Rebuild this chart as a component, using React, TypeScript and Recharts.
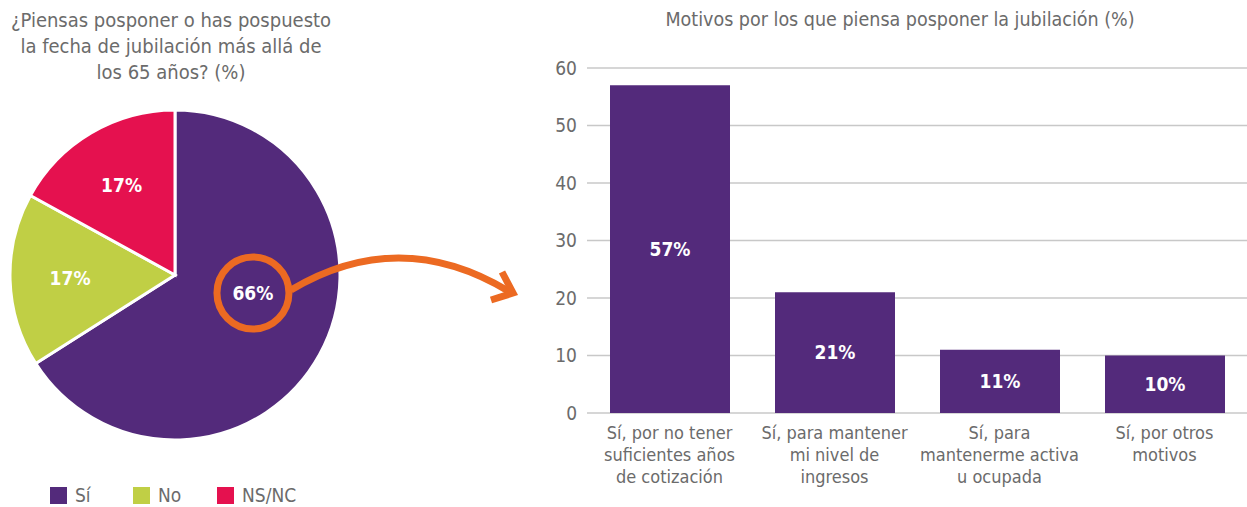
import {
  Bar,
  BarChart,
  CartesianGrid,
  Cell,
  LabelList,
  Legend,
  Pie,
  PieChart,
  XAxis,
  YAxis,
} from "recharts";

const pieNames = ["Sí", "No", "NS/NC"];
const pieValues = [66, 17, 17];
const pieColors = ["#532a7b", "#c0cf45", "#e5114f"];

const reasons = [
  "Sí, por no tener\nsuficientes años\nde cotización",
  "Sí, para mantener\nmi nivel de\ningresos",
  "Sí, para\nmantenerme activa\nu ocupada",
  "Sí, por otros\nmotivos",
];
const reasonValues = [57, 21, 11, 10];
const yTicks = [0, 10, 20, 30, 40, 50, 60];

const pieData = pieNames.map((name, i) => ({ name, value: pieValues[i] }));
const barData = reasons.map((reason, i) => ({ reason, value: reasonValues[i] }));

const FONT = "'Liberation Sans Narrow', 'DejaVu Sans Condensed', Roboto, sans-serif";
const GREY = "#6b6b6b";
const ORANGE = "#ec6a22";
const RAD = Math.PI / 180;

// the "Sí" label sits inside the orange highlight ring, not at the slice middle
const SI_ANGLE = -13;
const SI_R = 80;
const PIE_CX = 175;
const PIE_CY = 275;

const PieLabel = (p: any) => {
  const angle = p.index === 0 ? SI_ANGLE : p.midAngle;
  const r = p.index === 0 ? SI_R : 105;
  const x = p.cx + r * Math.cos(-angle * RAD);
  const y = p.cy + r * Math.sin(-angle * RAD);
  return (
    <text
      x={x}
      y={y}
      fill="#fff"
      fontSize={19}
      fontWeight={700}
      fontFamily={FONT}
      textAnchor="middle"
      dominantBaseline="central"
    >
      {p.value}%
    </text>
  );
};

const LegendContent = () => (
  <div style={{ display: "flex", fontFamily: FONT, fontSize: 19, color: GREY }}>
    {pieNames.map((n, i) => (
      <div key={n} style={{ display: "flex", alignItems: "center", width: i === 0 ? 83 : 84 }}>
        <span
          style={{
            width: 17,
            height: 17,
            background: pieColors[i],
            display: "inline-block",
            marginRight: 8,
          }}
        />
        {n}
      </div>
    ))}
  </div>
);

const ReasonTick = ({ x, y, payload }: any) => (
  <text x={x} y={y} textAnchor="middle" fill={GREY} fontSize={18} fontFamily={FONT}>
    {String(payload.value)
      .split("\n")
      .map((line, i) => (
        <tspan key={i} x={x} dy={i === 0 ? 18 : 22}>
          {line}
        </tspan>
      ))}
  </text>
);

export default function App() {
  const ringX = PIE_CX + SI_R * Math.cos(-SI_ANGLE * RAD);
  const ringY = PIE_CY + SI_R * Math.sin(-SI_ANGLE * RAD);
  return (
    <div
      style={{
        position: "absolute",
        left: 0,
        top: 0,
        width: 1247,
        height: 507,
        background: "#fff",
        fontFamily: FONT,
        overflow: "hidden",
      }}
    >
      <div
        style={{
          position: "absolute",
          left: 0,
          top: 7,
          width: 342,
          textAlign: "center",
          fontSize: 20,
          lineHeight: "26px",
          color: GREY,
        }}
      >
        ¿Piensas posponer o has pospuesto
        <br />
        la fecha de jubilación más allá de
        <br />
        los 65 años? (%)
      </div>

      <div style={{ position: "absolute", left: 0, top: 0 }}>
        <PieChart width={350} height={507} margin={{ top: 0, right: 0, bottom: 0, left: 0 }}>
          <Pie
            data={pieData}
            dataKey="value"
            nameKey="name"
            cx={PIE_CX}
            cy={PIE_CY}
            outerRadius={165}
            startAngle={90}
            endAngle={-270}
            stroke="#fff"
            strokeWidth={3}
            label={PieLabel}
            labelLine={false}
            isAnimationActive={false}
          >
            {pieData.map((d, i) => (
              <Cell key={d.name} fill={pieColors[i]} />
            ))}
          </Pie>
          <Legend
            content={LegendContent}
            wrapperStyle={{ left: 50, top: 484, width: 300 }}
          />
        </PieChart>
      </div>

      <div
        style={{
          position: "absolute",
          left: 640,
          top: 8,
          width: 520,
          textAlign: "center",
          fontSize: 19.5,
          color: GREY,
        }}
      >
        Motivos por los que piensa posponer la jubilación (%)
      </div>

      <div style={{ position: "absolute", left: 530, top: 0 }}>
        <BarChart
          width={717}
          height={507}
          data={barData}
          margin={{ top: 68, right: 0, bottom: 0, left: 0 }}
        >
          <CartesianGrid vertical={false} stroke="#c8c8c8" strokeWidth={1.5} />
          <XAxis
            dataKey="reason"
            height={94}
            axisLine={false}
            tickLine={false}
            interval={0}
            tick={<ReasonTick />}
          />
          <YAxis
            width={57}
            domain={[0, 60]}
            ticks={yTicks}
            axisLine={false}
            tickLine={false}
            tickMargin={4}
            tick={{ fill: GREY, fontSize: 19, fontFamily: FONT }}
          />
          <Bar dataKey="value" fill="#532a7b" barSize={120} isAnimationActive={false}>
            <LabelList
              dataKey="value"
              position="center"
              fill="#fff"
              fontSize={19}
              fontWeight={700}
              fontFamily={FONT}
              formatter={(v: any) => `${v}%`}
            />
          </Bar>
        </BarChart>
      </div>

      <svg
        width={1247}
        height={507}
        style={{ position: "absolute", left: 0, top: 0, pointerEvents: "none" }}
      >
        <circle cx={ringX} cy={ringY} r={36} fill="none" stroke={ORANGE} strokeWidth={7} />
        <path
          d={`M ${ringX + 38} ${ringY - 3} Q 400 225 510 292`}
          fill="none"
          stroke={ORANGE}
          strokeWidth={7}
        />
        <polyline
          points="502,272 513,293 491,300"
          fill="none"
          stroke={ORANGE}
          strokeWidth={7}
        />
      </svg>
    </div>
  );
}
